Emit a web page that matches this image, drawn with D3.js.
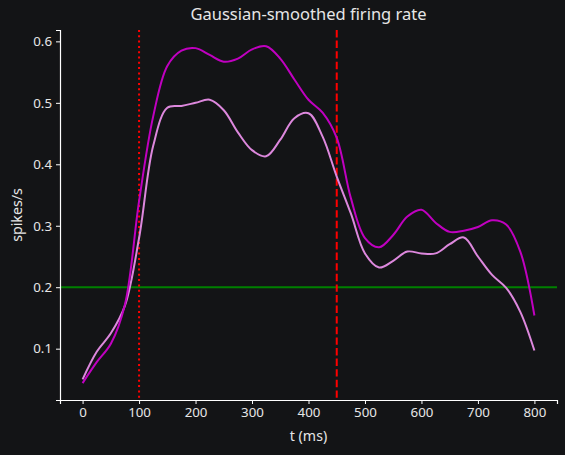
<!DOCTYPE html>
<html>
<head>
<meta charset="utf-8">
<script src="https://cdn.jsdelivr.net/npm/d3@7"></script>
<style>
  html, body { margin: 0; padding: 0; background: #131416; }
  svg { display: block; font-family: 'Noto Sans', 'Open Sans', sans-serif; }
</style>
</head>
<body>
<div id="chart"></div>
<script>
// time axis (ms)
const times = [0, 25, 50, 75, 100, 125, 150, 175, 200, 225, 250, 275, 300, 325, 350, 375, 400,
  425, 450, 475, 500, 525, 550, 575, 600, 625, 650, 675, 700, 725, 750, 775, 800];

// upper (dark magenta) trace
const rateA = [0.044, 0.078, 0.108, 0.172, 0.34, 0.478, 0.56, 0.585, 0.589, 0.578, 0.567, 0.572, 0.587,
  0.592, 0.572, 0.538, 0.505, 0.484, 0.443, 0.345, 0.28, 0.265, 0.285, 0.315, 0.326, 0.305, 0.29,
  0.292, 0.298, 0.309, 0.302, 0.258, 0.154];

// lower (light) trace
const rateB = [0.05, 0.095, 0.125, 0.17, 0.28, 0.43, 0.492, 0.495, 0.5, 0.505, 0.488, 0.452, 0.423,
  0.413, 0.44, 0.475, 0.483, 0.445, 0.38, 0.32, 0.255, 0.232, 0.243, 0.258, 0.255, 0.255, 0.27,
  0.281, 0.25, 0.22, 0.199, 0.16, 0.097];

const xTicks = [0, 100, 200, 300, 400, 500, 600, 700, 800];
const yTicks = [0.1, 0.2, 0.3, 0.4, 0.5, 0.6];
const onsetT = 100;
const offsetT = 450;
const threshold = 0.2;

const W = 565, H = 455;
const margin = { top: 30, right: 8, bottom: 55, left: 60 };
const width = W - margin.left - margin.right;
const height = H - margin.top - margin.bottom;

const xScale = d3.scaleLinear().domain([-40, 840]).range([0, width]);
const yScale = d3.scaleLinear().domain([0.0165, 0.6185]).range([height, 0]);

const svg = d3.select('#chart')
  .append('svg')
    .attr('width', W)
    .attr('height', H)
    .style('background', '#131416');

const g = svg.append('g')
  .attr('transform', 'translate(' + margin.left + ',' + margin.top + ')');

// reference lines
g.append('line')
  .attr('x1', 0).attr('x2', width)
  .attr('y1', yScale(threshold)).attr('y2', yScale(threshold))
  .attr('stroke', '#008000').attr('stroke-width', 2);

g.append('line')
  .attr('x1', xScale(onsetT)).attr('x2', xScale(onsetT))
  .attr('y1', 0).attr('y2', height)
  .attr('stroke', '#ff0000').attr('stroke-width', 2)
  .attr('stroke-dasharray', '2,3.3');

g.append('line')
  .attr('x1', xScale(offsetT)).attr('x2', xScale(offsetT))
  .attr('y1', 0).attr('y2', height)
  .attr('stroke', '#ff0000').attr('stroke-width', 2)
  .attr('stroke-dasharray', '7.4,3.2');

// traces
const line = d3.line()
  .x((d, i) => xScale(times[i]))
  .y((d) => yScale(d))
  .curve(d3.curveCatmullRom.alpha(0.5));

g.append('path')
  .datum(rateB)
  .attr('fill', 'none')
  .attr('stroke', '#dd88dd')
  .attr('stroke-width', 2)
  .attr('d', line);

g.append('path')
  .datum(rateA)
  .attr('fill', 'none')
  .attr('stroke', '#c000c0')
  .attr('stroke-width', 2)
  .attr('d', line);

// axes
const xAxis = g.append('g')
  .attr('transform', 'translate(0,' + height + ')')
  .call(d3.axisBottom(xScale).tickValues(xTicks).tickSizeOuter(0).tickSize(4).tickPadding(4));

const yAxis = g.append('g')
  .call(d3.axisLeft(yScale).tickValues(yTicks).tickSizeOuter(0).tickSize(4).tickPadding(4)
    .tickFormat(d3.format('.1f')));

[xAxis, yAxis].forEach((ax) => {
  ax.select('.domain').attr('stroke', '#ffffff').attr('stroke-width', 1.2);
  ax.selectAll('.tick line').attr('stroke', '#ffffff').attr('stroke-width', 1);
  ax.selectAll('.tick text')
    .attr('fill', '#e6e6e6')
    .style('font-size', '13.3px')
    .style('font-family', "'Noto Sans', sans-serif");
});

// labels
svg.append('text')
  .attr('x', margin.left + width / 2)
  .attr('y', 20)
  .attr('text-anchor', 'middle')
  .attr('fill', '#e6e6e6')
  .style('font-size', '16.5px')
  .text('Gaussian-smoothed firing rate');

svg.append('text')
  .attr('x', margin.left + width / 2)
  .attr('y', 441)
  .attr('text-anchor', 'middle')
  .attr('fill', '#e6e6e6')
  .style('font-size', '14.2px')
  .text('t (ms)');

svg.append('text')
  .attr('transform', 'rotate(-90)')
  .attr('x', -(margin.top + height / 2))
  .attr('y', 22)
  .attr('text-anchor', 'middle')
  .attr('fill', '#e6e6e6')
  .style('font-size', '14.2px')
  .text('spikes/s');
</script>
</body>
</html>
